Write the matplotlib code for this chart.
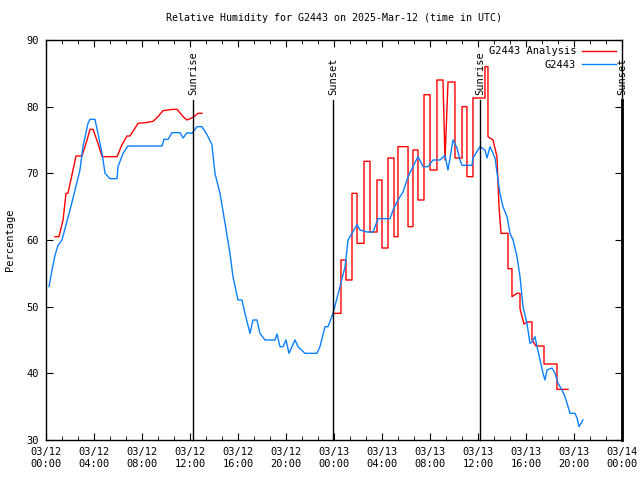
import numpy as np
import matplotlib
matplotlib.use("Agg")
import matplotlib.pyplot as plt

# hours since 2025-03-12 00:00 UTC
obs_hours = [0.25, 0.5, 0.75, 1.0, 1.33, 1.67, 2.0, 2.42, 2.83, 3.08, 3.5, 3.67, 4.08, 4.33,
             4.67, 4.92, 5.33, 5.92, 6.0, 6.42, 6.83, 9.67, 9.83, 10.17, 10.5, 11.17, 11.42,
             11.75, 12.17, 12.58, 13.0, 13.42, 13.83, 14.08, 14.5, 14.92, 15.33, 15.58, 16.0,
             16.33, 16.58, 17.0, 17.25, 17.58, 17.83, 18.25, 19.08, 19.25, 19.5, 19.75, 20.0,
             20.25, 20.75, 21.0, 21.58, 22.58, 22.83, 23.25, 23.5, 23.92, 24.5, 24.92, 25.17,
             25.5, 25.92, 26.17, 26.75, 27.25, 27.67, 28.67, 28.92, 29.33, 29.75, 30.17, 30.58,
             31.0, 31.42, 31.83, 32.25, 32.83, 33.25, 33.5, 33.92, 34.25, 34.5, 34.67, 35.5,
             35.58, 36.17, 36.58, 36.75, 37.0, 37.42, 37.67, 37.83, 38.08, 38.42, 38.67, 38.92,
             39.25, 39.5, 39.75, 40.08, 40.33, 40.5, 40.75, 40.92, 41.17, 41.42, 41.58, 41.75,
             42.17, 42.42, 42.67, 43.0, 43.25, 43.42, 43.67, 44.08, 44.25, 44.42, 44.75]
obs_vals = [53, 55.5, 57.7, 59.2, 60, 62.3, 64.5, 67.5, 70.5, 74, 77.5, 78.1, 78.1, 76,
            73, 70, 69.2, 69.2, 71, 73, 74.1, 74.1, 75.1, 75.1, 76.1, 76.1, 75.3,
            76.1, 76, 77, 77, 75.8, 74.3, 70, 67, 62.5, 58, 54.5, 51,
            51, 49, 46, 48, 48, 46, 45, 45, 45.9, 44, 44, 45,
            43, 45, 44, 43, 43, 44, 47, 47, 49, 53, 56, 60,
            61, 62.3, 61.5, 61.2, 61.2, 63.2, 63.2, 64.5, 66, 67.2, 69.5, 71,
            72.5, 71, 71, 72, 72, 72.7, 70.5, 75, 73.8, 72, 71.2, 71.2,
            72.3, 74, 73.5, 72.3, 74, 72.3, 69, 67, 65, 63.5, 61, 60,
            57.5, 54.5, 50, 47.5, 44.5, 44.7, 45.5, 44, 42, 40, 39, 40.5,
            40.8, 40, 38.5, 37.5, 36.5, 35.5, 34, 34, 33.3, 32, 33]

ana_hours = [0.75, 1.08, 1.42, 1.67, 1.83, 2.25, 2.5, 3.0, 3.42, 3.67, 3.92, 4.33, 4.67,
             5.92, 6.33, 6.75, 7.0, 7.67, 8.25, 8.92, 9.33, 9.75, 10.58, 10.92, 11.42,
             11.75, 12.25, 12.67, 13.0, 18.0,
             23.92, 24.58, 24.58, 25.0, 25.0, 25.5, 25.5, 25.92, 25.92, 26.5, 26.5, 27.0,
             27.0, 27.58, 27.58, 28.0, 28.0, 28.5, 28.5, 29.0, 29.0, 29.33, 29.33, 30.17,
             30.17, 30.58, 30.58, 31.0, 31.0, 31.5, 31.5, 32.0, 32.0, 32.58, 32.58, 33.08,
             33.25, 33.5, 34.08, 34.08, 34.67, 34.67, 35.08, 35.08, 35.58, 35.58, 36.58,
             36.58, 36.83, 36.83, 37.25, 37.58, 37.75, 37.92, 38.5, 38.5, 38.83, 38.83,
             39.25, 39.5, 39.5, 39.83, 40.08, 40.5, 40.5, 40.83, 41.5, 41.5, 42.58, 42.58,
             43.5]
ana_vals = [60.5, 60.5, 63, 67, 67, 70.5, 72.6, 72.6, 75, 76.6, 76.6, 74.5, 72.5,
            72.5, 74.3, 75.6, 75.6, 77.5, 77.6, 77.8, 78.5, 79.4, 79.6, 79.6, 78.5,
            78, 78.4, 79, 79, np.nan,
            49, 49, 57, 57, 54, 54, 67, 67, 59.5, 59.5, 71.8, 71.8,
            61.2, 61.2, 69, 69, 58.8, 58.8, 72.3, 72.3, 60.5, 60.5, 74, 74,
            62, 62, 73.5, 73.5, 66, 66, 81.8, 81.8, 70.5, 70.5, 84, 84,
            72, 83.7, 83.7, 72.3, 72.3, 80, 80, 69.5, 69.5, 81.3, 81.3,
            86, 86, 75.5, 75, 72.5, 65, 61, 61, 55.7, 55.7, 51.5,
            52, 52, 49.7, 47.4, 47.7, 47.7, 45, 44.1, 44.1, 41.4, 41.4, 37.6,
            37.6]

sun_hours = [12.25, 23.92, 36.17, 48.0]
sun_labels = ["Sunrise", "Sunset", "Sunrise", "Sunset"]

tick_hours = list(range(0, 49, 4))
tick_labels = ["03/12\n00:00", "03/12\n04:00", "03/12\n08:00", "03/12\n12:00",
               "03/12\n16:00", "03/12\n20:00", "03/13\n00:00", "03/13\n04:00",
               "03/13\n08:00", "03/13\n12:00", "03/13\n16:00", "03/13\n20:00",
               "03/14\n00:00"]

plt.rcParams['font.family'] = ['DejaVu Sans Mono']
plt.rcParams['font.size'] = 7.5

fig = plt.figure(figsize=(6.4, 4.8), dpi=100)
ax = fig.add_axes([46 / 640, 40 / 480, 576 / 640, 400 / 480])

ax.plot(ana_hours, ana_vals, color='#ff0000', lw=1, label='G2443 Analysis')
ax.plot(obs_hours, obs_vals, color='#0a80ff', lw=1, label='G2443')

for h, lab in zip(sun_hours, sun_labels):
    lw = 2 if h >= 48 else 1
    ax.plot([h, h], [30, 81], color='black', lw=lw, clip_on=False)
    ax.text(h, 81.8, lab, rotation=90, ha='center', va='bottom', clip_on=False)

ax.set_xlim(0, 48)
ax.set_ylim(30, 90)
ax.set_xticks(tick_hours)
ax.set_xticklabels(tick_labels)
ax.set_xticks(np.arange(0, 48, 4 / 3), minor=True)
ax.set_yticks(range(30, 91, 10))
ax.tick_params(which='both', direction='in', top=True, right=True, pad=5)
ax.tick_params(which='major', length=5)
ax.tick_params(which='minor', length=3)
for s in ax.spines.values():
    s.set_linewidth(1)

ax.set_title("Relative Humidity for G2443 on 2025-Mar-12 (time in UTC)", fontsize=7.2, pad=14)
ax.set_ylabel("Percentage", labelpad=8)

ax.legend(loc='upper right', frameon=False, markerfirst=False, handlelength=3.2,
          handletextpad=0.6, labelspacing=0.35, borderaxespad=0.5, borderpad=0.1)

fig.savefig("out.png", dpi=100)
